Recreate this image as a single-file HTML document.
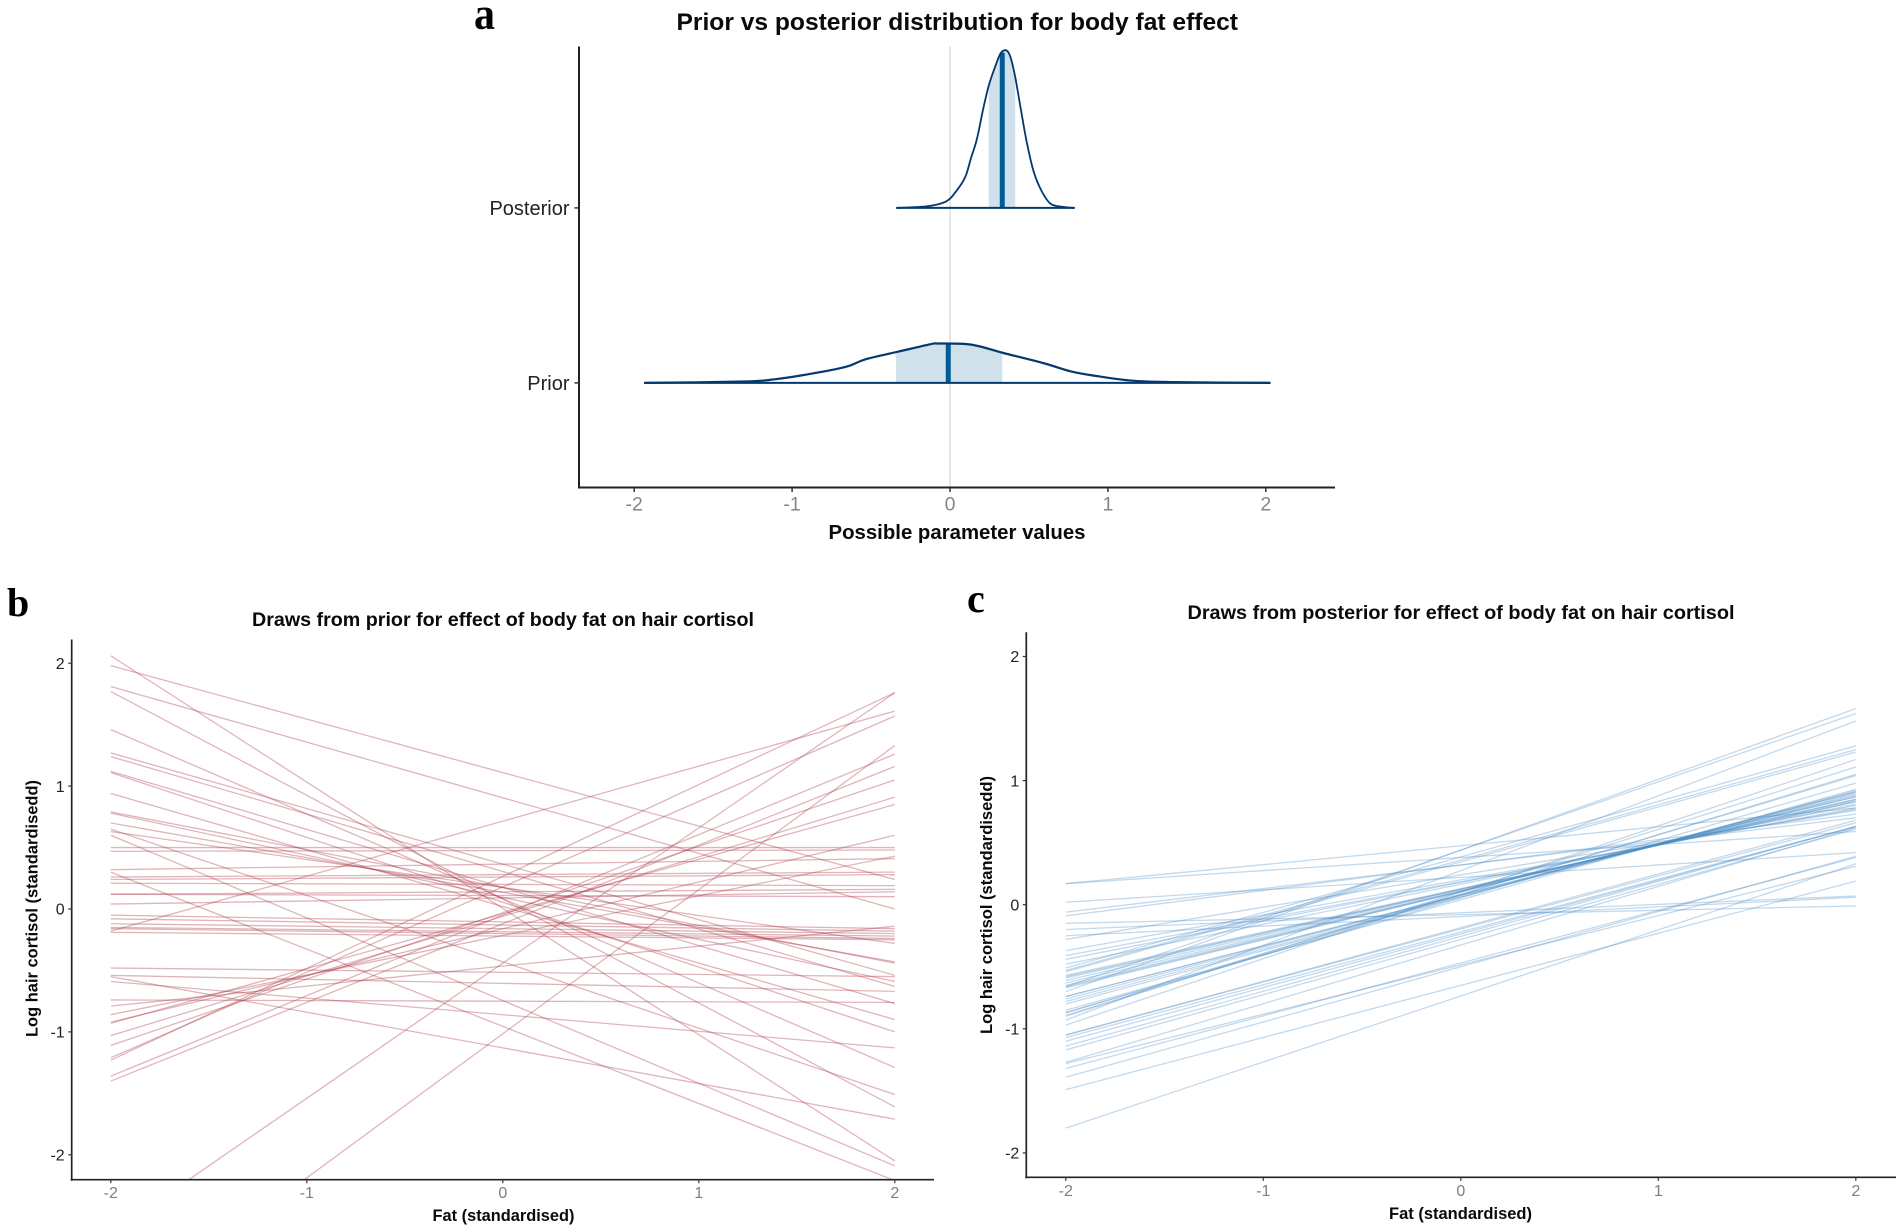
<!DOCTYPE html>
<html lang="en">
<head>
<meta charset="utf-8">
<title>Prior and posterior body fat effect</title>
<style>
html,body{margin:0;padding:0;background:#fff;width:1902px;height:1231px;overflow:hidden;}
svg{display:block;overflow:hidden;}
text{font-family:"Liberation Sans",sans-serif;}
.tag{font-family:"Liberation Serif",serif;font-weight:bold;fill:#000;}
.title,.axis-title{font-weight:bold;fill:#0a0a0a;}
</style>
</head>
<body>
<svg id="fig" width="1902" height="1231" viewBox="0 0 1902 1231" xmlns="http://www.w3.org/2000/svg">
  <rect x="0" y="0" width="1902" height="1231" fill="#fff"/>

  <text class="tag" x="474" y="29" font-size="46" textLength="21" lengthAdjust="spacingAndGlyphs">a</text>
  <text class="title" x="676.5" y="30" font-size="24" textLength="561.5" lengthAdjust="spacingAndGlyphs">Prior vs posterior distribution for body fat effect</text>
  <text class="axis-title" x="828.5" y="539" font-size="20" textLength="257" lengthAdjust="spacingAndGlyphs">Possible parameter values</text>

  <text class="tag" x="7" y="616" font-size="40">b</text>
  <text class="title" x="252" y="626" font-size="19" textLength="502" lengthAdjust="spacingAndGlyphs">Draws from prior for effect of body fat on hair cortisol</text>
  <text class="axis-title" x="432.5" y="1221" font-size="16.5" textLength="142" lengthAdjust="spacingAndGlyphs">Fat (standardised)</text>
  <text class="axis-title" transform="translate(37.5,1037) rotate(-90)" font-size="16.5" textLength="257" lengthAdjust="spacingAndGlyphs">Log hair cortisol (standardisedd)</text>

  <text class="tag" x="967" y="612" font-size="40">c</text>
  <text class="title" x="1187.5" y="619" font-size="19" textLength="547" lengthAdjust="spacingAndGlyphs">Draws from posterior for effect of body fat on hair cortisol</text>
  <text class="axis-title" x="1389" y="1219" font-size="16.5" textLength="143" lengthAdjust="spacingAndGlyphs">Fat (standardised)</text>
  <text class="axis-title" transform="translate(992,1034) rotate(-90)" font-size="16.5" textLength="258" lengthAdjust="spacingAndGlyphs">Log hair cortisol (standardisedd)</text>

  <g id="panel-a"></g>
  <g id="panel-b"></g>
  <g id="panel-c"></g>
</svg>

<script>
// Panel a data
const densityCategories = ["Prior", "Posterior"];
const densityTicks = [-2, -1, 0, 1, 2];
const posteriorX = [-0.34,-0.145,-0.026,0.04,0.097,0.134,0.17,0.208,0.245,0.283,0.32,0.357,0.383,0.413,0.45,0.487,0.53,0.58,0.636,0.71,0.79];
const posteriorDensity = [0,0.01,0.04,0.107,0.197,0.32,0.435,0.617,0.775,0.889,0.98,1,0.957,0.832,0.617,0.413,0.23,0.107,0.027,0.007,0];
const posteriorInterval = [0.245, 0.413];
const posteriorMedian = 0.331;
const priorX = [-1.937,-1.297,-1.11,-0.926,-0.665,-0.535,-0.33,-0.126,-0.07,0.134,0.338,0.6,0.766,0.933,1.156,1.416,2.03];
const priorDensity = [0,0.009,0.023,0.05,0.1,0.15,0.198,0.245,0.25,0.243,0.19,0.123,0.073,0.043,0.014,0.005,0];
const priorInterval = [-0.342, 0.331];
const priorMedian = -0.011;

// Panels b and c data
const drawTicksX = [-2, -1, 0, 1, 2];
const drawTicksY = [-2, -1, 0, 1, 2];
const priorDrawStart = [-2.64,-3.36,2.06,1.98,1.81,1.77,1.46,0.30,0.60,-0.55,0.65,-0.59,-0.18,-1.23,-1.21,-1.36,-1.40,1.27,1.24,1.12,1.11,0.94,0.79,0.78,0.70,0.63,0.50,0.47,0.32,0.26,0.24,0.21,0.12,0.12,0.04,-0.05,-0.08,-0.12,-0.15,-0.16,-0.19,-0.48,-0.54,-0.74,-0.79,-0.86,-0.92,-0.93,-1.03,-1.11];
const priorDrawEnd = [1.76,1.33,-2.05,0.24,0,-1.61,-1.29,-2.21,-2.09,-1.71,-1.51,-1.13,1.61,1.76,1.57,1.26,1.16,-0.54,-0.63,-0.77,-1.00,-0.90,-0.44,-0.59,-0.43,-0.28,0.50,0.48,0.41,0.30,0.28,0.19,0.16,0.10,0.14,-0.16,-0.18,-0.20,-0.22,-0.24,-0.25,-0.55,-0.67,-0.76,-0.14,0.43,0.60,0.85,0.91,1.05];
const posteriorDrawStart = [-1.80,-1.49,-1.39,-1.32,-1.28,-0.15,-0.20,-0.25,0.17,0.17,-0.66,-0.70,-0.93,-0.51,-0.53,-0.54,-1.27,-1.17,-1.14,-1.10,-1.07,-1.05,-1.05,0.02,-0.06,-0.09,-0.28,-0.37,-0.41,-0.44,-0.48,-0.57,-0.58,-0.59,-0.61,-0.63,-0.65,-0.66,-0.67,-0.74,-0.74,-0.76,-0.78,-0.80,-0.85,-0.87,-0.87,-0.89,-0.90,-0.97];
const posteriorDrawEnd = [0.33,0.19,0.39,0.38,0.31,-0.01,0.07,0.06,0.78,0.59,1.54,1.58,1.48,1.28,1.25,1.23,0.62,0.61,0.63,0.63,0.63,0.66,0.68,0.42,0.70,0.73,0.76,0.77,0.78,0.80,0.81,0.83,0.83,0.84,0.85,0.85,0.87,0.87,0.88,0.89,0.90,0.91,0.91,0.92,0.93,0.98,1.04,1.05,1.11,1.17];
const drawDomain = [-2, 2];

const NS = "http://www.w3.org/2000/svg";
function make(tag, attrs, parent) {
  const el = document.createElementNS(NS, tag);
  for (const k in attrs) el.setAttribute(k, attrs[k]);
  parent.appendChild(el);
  return el;
}

/* ---------- Panel a ---------- */
const gA = document.getElementById("panel-a");
const xA = v => 950 + 157.9 * v;
const yA = c => 382.9 - 175 * densityCategories.indexOf(c);
const hA = d => 157.5 * d;

function densityAt(xs, ds, v) {
  for (let i = 1; i < xs.length; i++) {
    if (v <= xs[i]) {
      const t = (v - xs[i - 1]) / (xs[i] - xs[i - 1]);
      return ds[i - 1] + t * (ds[i] - ds[i - 1]);
    }
  }
  return 0;
}

function smoothPath(pts) {
  let d = "M" + pts[0][0].toFixed(1) + "," + pts[0][1].toFixed(1);
  for (let i = 0; i < pts.length - 1; i++) {
    const p0 = pts[Math.max(0, i - 1)], p1 = pts[i], p2 = pts[i + 1], p3 = pts[Math.min(pts.length - 1, i + 2)];
    const c1x = p1[0] + (p2[0] - p0[0]) / 6, c1y = Math.min(pts[0][1], p1[1] + (p2[1] - p0[1]) / 6);
    const c2x = p2[0] - (p3[0] - p1[0]) / 6, c2y = Math.min(pts[0][1], p2[1] - (p3[1] - p1[1]) / 6);
    d += "C" + c1x.toFixed(1) + "," + c1y.toFixed(1) + " " + c2x.toFixed(1) + "," + c2y.toFixed(1) + " " + p2[0].toFixed(1) + "," + p2[1].toFixed(1);
  }
  return d;
}

function drawDensity(cat, xs, ds, interval, median, prefix, width) {
  const base = yA(cat);
  // interval band
  const pts = [[interval[0], 0], [interval[0], densityAt(xs, ds, interval[0])]];
  xs.forEach((x, i) => { if (x > interval[0] && x < interval[1]) pts.push([x, ds[i]]); });
  pts.push([interval[1], densityAt(xs, ds, interval[1])], [interval[1], 0]);
  const band = make("polygon", {
    points: pts.map(p => xA(p[0]).toFixed(1) + "," + (base - hA(p[1])).toFixed(1)).join(" "),
    fill: "#d1e1ec", stroke: "none"
  }, gA);
  
  
  // median
  const med = make("line", {
    x1: xA(median), x2: xA(median), y1: base, y2: base - hA(densityAt(xs, ds, median)),
    stroke: "#005b96", "stroke-width": 5
  }, gA);
  
  
  // curve
  const curve = make("path", {
    d: smoothPath(xs.map((x, i) => [xA(x), base - hA(ds[i])])),
    fill: "none", stroke: "#03396c", "stroke-width": width, "stroke-linejoin": "round"
  }, gA);
  
  
  // baseline
  const bl = make("line", {
    x1: xA(xs[0]), x2: xA(xs[xs.length - 1]), y1: base, y2: base,
    stroke: "#03396c", "stroke-width": 2
  }, gA);
  
  
}

const zeroLine = make("line", { x1: xA(0), x2: xA(0), y1: 46.5, y2: 487.5, stroke: "#dedede", "stroke-width": 1.5 }, gA);



drawDensity("Posterior", posteriorX, posteriorDensity, posteriorInterval, posteriorMedian, "posterior", 1.8);
drawDensity("Prior", priorX, priorDensity, priorInterval, priorMedian, "prior", 2.2);

const axisAY = make("line", { x1: 579, x2: 579, y1: 46.5, y2: 488.5, stroke: "#222", "stroke-width": 2 }, gA);


const axisAX = make("line", { x1: 578, x2: 1335, y1: 487.5, y2: 487.5, stroke: "#222", "stroke-width": 2 }, gA);



densityTicks.forEach(t => {
  const tick = make("line", { x1: xA(t), x2: xA(t), y1: 488, y2: 492, stroke: "#333", "stroke-width": 1.5 }, gA);
  
  
  const lab = make("text", { x: xA(t), y: 510.7, "font-size": 19.5, "text-anchor": "middle", fill: "#858585" }, gA);
  
  
  lab.textContent = String(t);
});
densityCategories.forEach(c => {
  const tick = make("line", { x1: 574.5, x2: 579, y1: yA(c), y2: yA(c), stroke: "#333", "stroke-width": 1.5 }, gA);
  
  
  const lab = make("text", { x: 569.5, y: yA(c) + 7, "font-size": 20, "text-anchor": "end", fill: "#222" }, gA);
  
  
  lab.textContent = c;
});

/* ---------- Panels b and c ---------- */
function drawDraws(cfg) {
  const g = document.getElementById(cfg.id);
  const xS = v => cfg.x0 + cfg.xUnit * v;
  const yS = v => cfg.y0 - cfg.yUnit * v;
  const floorValue = (cfg.y0 - cfg.axisY) / cfg.yUnit;
  const lines = make("g", {}, g);
  
  
  cfg.starts.forEach((s, i) => {
    const e = cfg.ends[i];
    let x1 = drawDomain[0], x2 = drawDomain[1], v1 = s, v2 = e;
    // the panel crops any draw that leaves the y range at the bottom
    if (v1 < floorValue) { x1 = drawDomain[0] + (drawDomain[1] - drawDomain[0]) * (floorValue - s) / (e - s); v1 = floorValue; }
    if (v2 < floorValue) { x2 = drawDomain[0] + (drawDomain[1] - drawDomain[0]) * (floorValue - s) / (e - s); v2 = floorValue; }
    const ln = make("line", {
      x1: xS(x1).toFixed(2), x2: xS(x2).toFixed(2),
      y1: yS(v1).toFixed(2), y2: yS(v2).toFixed(2),
      stroke: cfg.color, "stroke-opacity": cfg.opacity, "stroke-width": 1.3
    }, lines);
    
    
  });
  const axY = make("line", { x1: cfg.axisX, x2: cfg.axisX, y1: cfg.top, y2: cfg.axisY + 1, stroke: "#222", "stroke-width": 1.7 }, g);
  
  
  const axX = make("line", { x1: cfg.axisX - 1, x2: cfg.axisEnd, y1: cfg.axisY, y2: cfg.axisY, stroke: "#222", "stroke-width": 1.7 }, g);
  
  
  drawTicksX.forEach(t => {
    const tick = make("line", { x1: xS(t), x2: xS(t), y1: cfg.axisY, y2: cfg.axisY + 3.5, stroke: "#333", "stroke-width": 1.2 }, g);
    
    
    const lab = make("text", { x: xS(t), y: cfg.axisY + 18.5, "font-size": 16, "text-anchor": "middle", fill: "#7f7f7f" }, g);
    
    
    lab.textContent = String(t);
  });
  drawTicksY.forEach(t => {
    const tick = make("line", { x1: cfg.axisX - 3.5, x2: cfg.axisX, y1: yS(t), y2: yS(t), stroke: "#333", "stroke-width": 1.2 }, g);
    
    
    const lab = make("text", { x: cfg.axisX - 7, y: yS(t) + 5.7, "font-size": 16, "text-anchor": "end", fill: "#222" }, g);
    
    
    lab.textContent = String(t);
  });
}

drawDraws({
  id: "panel-b", prefix: "prior",
  starts: priorDrawStart, ends: priorDrawEnd,
  color: "#a83240", opacity: 0.36,
  x0: 502.8, xUnit: 196, y0: 909, yUnit: 122.9,
  axisX: 71.7, axisY: 1179.7, axisEnd: 934, top: 639.5
});
drawDraws({
  id: "panel-c", prefix: "posterior",
  starts: posteriorDrawStart, ends: posteriorDrawEnd,
  color: "#4a8cc4", opacity: 0.33,
  x0: 1460.8, xUnit: 197.5, y0: 904.7, yUnit: 124.1,
  axisX: 1026.3, axisY: 1177.3, axisEnd: 1896, top: 632.3
});
</script>
</body>
</html>
